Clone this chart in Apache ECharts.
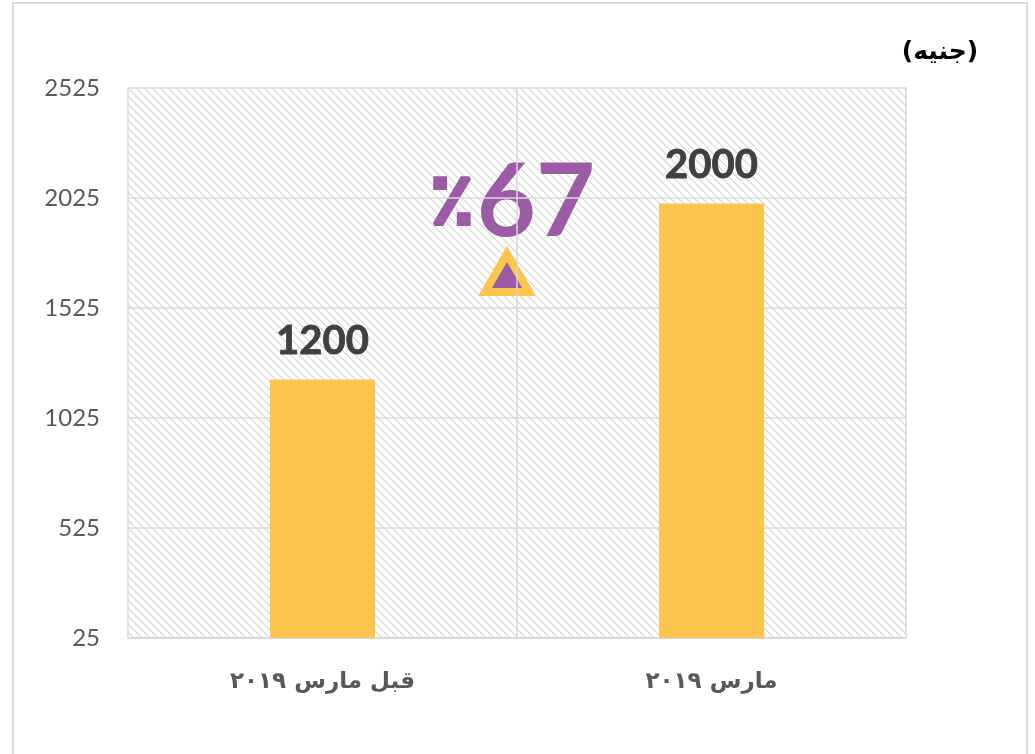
<!DOCTYPE html>
<html>
<head>
<meta charset="utf-8">
<script src="https://cdn.jsdelivr.net/npm/echarts@6/dist/echarts.min.js"></script>
<style>
html,body{margin:0;padding:0;background:#fff;}
#frame{position:absolute;left:12px;top:2px;width:1016px;height:760px;border:2px solid #d9d9d9;box-sizing:border-box;}
#chart{position:absolute;left:0;top:0;width:1035px;height:754px;}
</style>
</head>
<body>
<div id="frame"></div>
<div id="chart"></div>
<script>
const categories = ['قبل مارس ٢٠١٩', 'مارس ٢٠١٩'];
const values = [1200, 2000];
const yMin = 25;
const yMax = 2525;
const yStep = 500;
const unitLabel = '(جنيه)';
const changeValue = '67';
const changeSign = '٪';

const tile = document.createElement('canvas');
tile.width = 8; tile.height = 8;
const tc = tile.getContext('2d');
tc.fillStyle = '#ffffff';
tc.fillRect(0, 0, 8, 8);
tc.strokeStyle = '#dadada';
tc.lineWidth = 1.3;
tc.beginPath();
tc.moveTo(-2, -2); tc.lineTo(10, 10);
tc.moveTo(-10, -2); tc.lineTo(2, 10);
tc.moveTo(6, -2); tc.lineTo(18, 10);
tc.stroke();

const chart = echarts.init(document.getElementById('chart'), null, {renderer: 'canvas'});
chart.setOption({
  animation: false,
  backgroundColor: 'transparent',
  grid: {
    left: 128, right: 129, top: 88, bottom: 116,
    show: true,
    backgroundColor: {image: tile, repeat: 'repeat'},
    borderWidth: 0
  },
  xAxis: {
    type: 'category',
    data: categories,
    axisLine: {show: true, lineStyle: {color: '#d9d9d9', width: 1.5}},
    axisTick: {show: false},
    splitLine: {show: true, lineStyle: {color: '#d9d9d9', width: 1.5}},
    axisLabel: {
      margin: 33,
      fontFamily: 'DejaVu Sans',
      fontWeight: 'bold',
      fontSize: 23,
      color: '#595959'
    }
  },
  yAxis: {
    type: 'value',
    min: yMin,
    max: yMax,
    interval: yStep,
    axisLine: {show: false},
    axisTick: {show: false},
    splitLine: {show: true, lineStyle: {color: '#d9d9d9', width: 1.5}},
    axisLabel: {
      margin: 28,
      fontFamily: 'Lato',
      fontSize: 24,
      color: '#595959',
      formatter: function (v) { return String(v); }
    }
  },
  series: [{
    type: 'bar',
    data: values,
    barWidth: '27%',
    itemStyle: {color: '#FCC54E'},
    label: {
      show: true,
      position: 'top',
      distance: 18,
      fontFamily: 'Lato',
      fontWeight: 'bold',
      fontSize: 40,
      color: '#404040',
      textBorderColor: '#404040',
      textBorderWidth: 0.8
    }
  }],
  graphic: [
    {
      type: 'text',
      x: 940, y: 52,
      style: {
        text: unitLabel,
        fontFamily: 'DejaVu Sans',
        fontWeight: 'bold',
        fontSize: 25,
        fill: '#000000',
        align: 'center',
        verticalAlign: 'middle'
      }
    },
    {
      type: 'text',
      x: 536, y: 203,
      style: {
        text: changeValue,
        fontFamily: 'Lato',
        fontWeight: 'bold',
        fontSize: 102,
        fill: '#9B5BA5',
        align: 'center',
        verticalAlign: 'middle'
      }
    },
    {
      type: 'text',
      x: 452, y: 205,
      style: {
        text: changeSign,
        fontFamily: 'DejaVu Sans',
        fontWeight: 'bold',
        fontSize: 72,
        fill: '#9B5BA5',
        stroke: '#9B5BA5',
        lineWidth: 4,
        align: 'center',
        verticalAlign: 'middle'
      }
    },
    {
      type: 'polygon',
      shape: {points: [[507, 254], [485, 292], [529, 292]]},
      style: {fill: '#9B5BA5', stroke: '#FCC54E', lineWidth: 8, lineJoin: 'miter'}
    }
  ]
});
</script>
</body>
</html>
